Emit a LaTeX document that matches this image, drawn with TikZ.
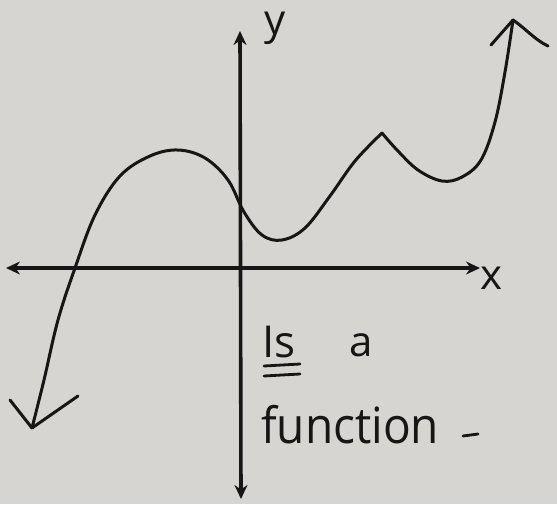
\documentclass[tikz,border=0pt]{standalone}
\usepackage{fontspec}
\setmainfont{Open Sans}
\usetikzlibrary{arrows.meta}
\definecolor{paper}{RGB}{214,213,209}
\definecolor{ink}{RGB}{22,22,22}
\tikzset{
  axis/.style={draw=ink, line width=3.6pt, {Stealth[length=14pt,width=13pt]}-{Stealth[length=14pt,width=13pt]}},
  curve/.style={draw=ink, line width=3pt, line cap=round, line join=round},
  hand/.style={text=ink, inner sep=0pt, font=\fontsize{44}{48}\selectfont},
  small/.style={text=ink, inner sep=0pt, font=\fontsize{42}{46}\selectfont}
}
\begin{document}
\begin{tikzpicture}[x=1pt,y=-1pt]
\fill[paper] (0,0) rectangle (557,504);
\useasboundingbox (0,0) rectangle (557,504);
% axes
\coordinate (xl) at (6,268);
\coordinate (xr) at (480,268);
\coordinate (yt) at (240,31);
\coordinate (yb) at (241,499);
\draw[axis] (xl) -- (xr);
\draw[axis] (yb) -- (yt);
\node[small] (ylab) at (275,28) {y};
\node[small] (xlab) at (491,278) {x};
% curve
\coordinate (c0) at (32,428);
\coordinate (pk) at (382,133);
\coordinate (c9) at (513,20);
\draw[curve] plot[smooth, tension=0.6] coordinates {
  (c0) (44,380) (58,320) (75,268) (95,215) (120,176) (150,156) (178,150) (205,158) (228,180) (244,212) (262,235) (282,240) (305,228) (330,196) (355,161) (pk)};
\draw[curve] plot[smooth, tension=0.6] coordinates {
  (pk) (397,150) (418,170) (442,181) (462,177) (481,160) (495,122) (505,72) (c9)};
% hand-drawn arrow wings
\coordinate (w1) at (10,400);
\coordinate (w2) at (78,396);
\draw[curve] (w1) -- (c0) -- (w2);
\coordinate (w3) at (491,45);
\coordinate (w4) at (548,46);
\draw[curve] (w3) -- (c9);
\draw[curve] (c9) .. controls (525,28) and (535,40) .. (w4);
% text
\node[hand, anchor=base west] (is) at (262,357) {Is};
\draw[ink, line width=2.8pt, line cap=round] (264,366) -- (300,364);
\draw[ink, line width=2.8pt, line cap=round] (264,376) -- (300,374);
\node[small, anchor=base west] (a) at (349,356) {a};
\node[hand, anchor=base west, font=\fontsize{50}{54}\selectfont, xscale=0.92] (fn) at (261,443) {function};
\draw[ink, line width=2.8pt, line cap=round] (463,436) -- (478,434);
\end{tikzpicture}
\end{document}
